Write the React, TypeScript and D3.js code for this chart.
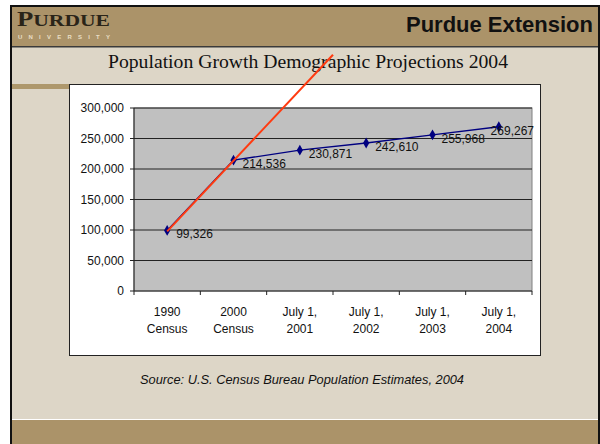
import React from "react";
import * as d3 from "d3";

// categories (two-line tick labels)
const periods = ["1990 Census", "2000 Census", "July 1, 2001", "July 1, 2002", "July 1, 2003", "July 1, 2004"];
const periodLines = [
  ["1990", "Census"],
  ["2000", "Census"],
  ["July 1,", "2001"],
  ["July 1,", "2002"],
  ["July 1,", "2003"],
  ["July 1,", "2004"],
];
const population = [99326, 214536, 230871, 242610, 255968, 269267];
const yTicks = [0, 50000, 100000, 150000, 200000, 250000, 300000];

// red trend line: 1990->2000 growth carried forward (in category steps)
const trendSteps = 2.5;

const W = 600;
const H = 444;
const plot = { left: 134, right: 532, top: 108, bottom: 291 };

const App = () => {
  //scales
  const x = d3.scaleBand<string>().domain(periods).range([plot.left, plot.right]);
  const bw = x.bandwidth();
  const cx = (p: string) => (x(p) as number) + bw / 2;
  const y = d3.scaleLinear().domain([0, 300000]).range([plot.bottom, plot.top]);
  const fmt = d3.format(",");

  const pts = periods.map((p, i) => ({ p, v: population[i], px: cx(p), py: y(population[i]) }));
  const line = d3
    .line<{ px: number; py: number }>()
    .x((d) => d.px)
    .y((d) => d.py);
  const diamond = d3.symbol().type(d3.symbolDiamond).size(34)();

  //trend line end
  const growth = population[1] - population[0];
  const t0 = { px: cx(periods[0]), py: y(population[0]) };
  const t1 = { px: cx(periods[0]) + bw * trendSteps, py: y(population[0] + growth * trendSteps) };

  const boundaries = periods.map((p) => x(p) as number).concat([plot.right]);

  return (
    <svg width={W} height={H} style={{ position: "fixed", left: 0, top: 0, background: "#fff" }}>
      {/* slide frame */}
      <rect x={10} y={5} width={590} height={439} fill="#ddd6c7" />
      <rect x={10} y={5} width={590} height={2} fill="#111" />
      <rect x={10} y={5} width={2} height={439} fill="#111" />
      <rect x={598} y={5} width={2} height={439} fill="#111" />
      {/* header band */}
      <rect x={12} y={7} width={586} height={39} fill="#ab9369" />
      <rect x={12} y={46} width={586} height={1.5} fill="#3a3a3a" />
      {/* logo */}
      <text x={17} y={26} fontFamily="'Liberation Serif', serif" fontWeight="bold" fill="#2a2418" textLength={93} lengthAdjust="spacingAndGlyphs">
        <tspan fontSize={21}>P</tspan>
        <tspan fontSize={17}>URDUE</tspan>
      </text>
      <text x={18} y={39} fontFamily="'Liberation Sans', Arial, sans-serif" fontSize={6} fontWeight="bold" fill="#e9dfc6" textLength={92} lengthAdjust="spacing">
        UNIVERSITY
      </text>
      <text x={593} y={32} textAnchor="end" fontFamily="'Liberation Sans', Arial, sans-serif" fontSize={22} fontWeight="bold" fill="#111">
        Purdue Extension
      </text>
      {/* title */}
      <text x={308} y={68} textAnchor="middle" fontFamily="'Liberation Serif', 'Times New Roman', serif" fontSize={19.5} fill="#111" textLength={400} lengthAdjust="spacingAndGlyphs">
        Population Growth Demographic Projections 2004
      </text>
      {/* small tan strip */}
      <rect x={12} y={84} width={57} height={5} fill="#ae986c" />
      {/* bottom band */}
      <rect x={12} y={419} width={586} height={1} fill="#fff" />
      <rect x={12} y={420} width={586} height={24} fill="#ab9369" />

      {/* chart box */}
      <rect x={69.5} y={84.5} width={471} height={271} fill="#fff" stroke="#222" strokeWidth={1} />

      {/* plot area */}
      <rect x={plot.left} y={plot.top} width={plot.right - plot.left} height={plot.bottom - plot.top} fill="#c0c0c0" stroke="#808080" />
      {yTicks.slice(1).map((t) => (
        <line key={t} x1={plot.left} x2={plot.right} y1={y(t)} y2={y(t)} stroke="#222" strokeWidth={1} />
      ))}

      {/* y axis */}
      <line x1={plot.left} x2={plot.left} y1={plot.top} y2={plot.bottom} stroke="#222" />
      {yTicks.map((t) => (
        <g key={t}>
          <line x1={plot.left - 4} x2={plot.left} y1={y(t)} y2={y(t)} stroke="#222" />
          <text x={plot.left - 10} y={y(t) + 4} textAnchor="end" fontFamily="'Liberation Sans', Arial, sans-serif" fontSize={12} fill="#111">
            {fmt(t)}
          </text>
        </g>
      ))}

      {/* x axis */}
      <line x1={plot.left} x2={plot.right} y1={plot.bottom} y2={plot.bottom} stroke="#222" />
      {boundaries.map((b, i) => (
        <line key={i} x1={b} x2={b} y1={plot.bottom} y2={plot.bottom + 4} stroke="#222" />
      ))}
      {periods.map((p, i) => (
        <text key={p} textAnchor="middle" fontFamily="'Liberation Sans', Arial, sans-serif" fontSize={12} fill="#111">
          <tspan x={cx(p)} y={316}>{periodLines[i][0]}</tspan>
          <tspan x={cx(p)} y={333}>{periodLines[i][1]}</tspan>
        </text>
      ))}

      {/* series */}
      <path d={line(pts) || ""} fill="none" stroke="#000080" strokeWidth={1.3} />
      {pts.map((d) => (
        <path key={d.p} d={diamond || ""} transform={`translate(${d.px},${d.py})`} fill="#000080" />
      ))}
      {pts.map((d) => {
        const fits = d.px + 9 + 42 <= plot.right;
        return (
          <text
            key={d.p}
            x={fits ? d.px + 9 : plot.right + 2}
            y={d.py + 8}
            textAnchor={fits ? "start" : "end"}
            fontFamily="'Liberation Sans', Arial, sans-serif"
            fontSize={12}
            fill="#111"
          >
            {fmt(d.v)}
          </text>
        );
      })}

      {/* red trend line */}
      <line x1={t0.px} y1={t0.py + 1} x2={t1.px} y2={t1.py} stroke="#ff3a10" strokeWidth={2} />

      {/* source */}
      <text x={302} y={384} textAnchor="middle" fontFamily="'Liberation Sans', Arial, sans-serif" fontSize={13} fontStyle="italic" fill="#111" textLength={324} lengthAdjust="spacingAndGlyphs">
        Source: U.S. Census Bureau Population Estimates, 2004
      </text>
    </svg>
  );
};

export default App;
